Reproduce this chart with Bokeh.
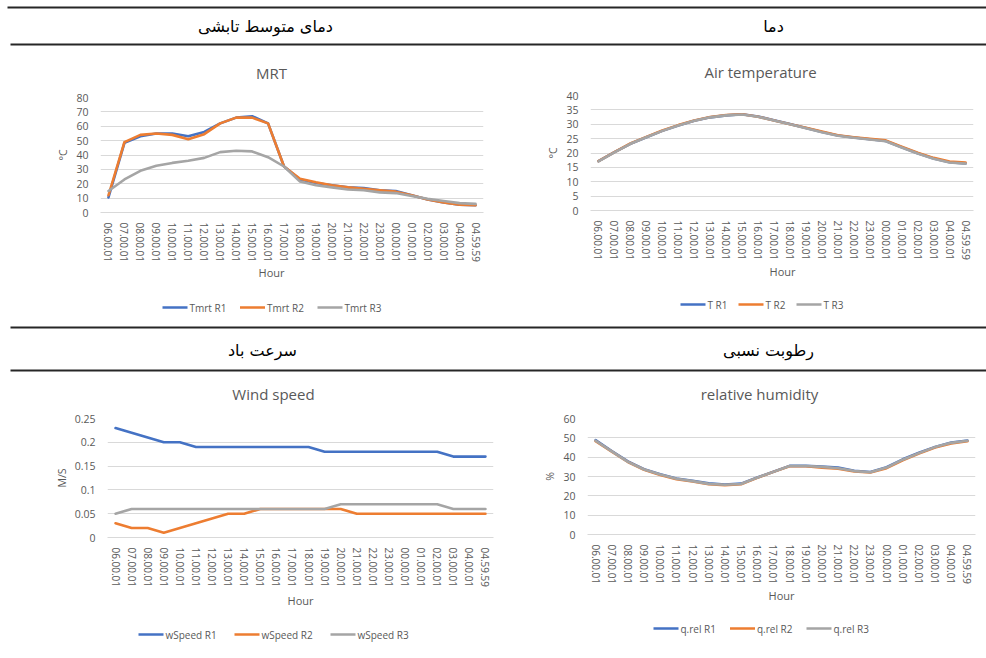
from bokeh.plotting import figure
from bokeh.models import (FactorRange, Range1d, FixedTicker, NumeralTickFormatter, Label)
from bokeh.layouts import column, row
from bokeh.embed import file_html
from bokeh.resources import INLINE

# ---- data -------------------------------------------------------------
hours = ["06.00.01", "07.00.01", "08.00.01", "09.00.01", "10.00.01", "11.00.01",
         "12.00.01", "13.00.01", "14.00.01", "15.00.01", "16.00.01", "17.00.01",
         "18.00.01", "19.00.01", "20.00.01", "21.00.01", "22.00.01", "23.00.01",
         "00.00.01", "01.00.01", "02.00.01", "03.00.01", "04.00.01", "04.59.59"]

tmrt_r1 = [10.5, 48.5, 53, 55, 55, 53, 56, 62, 66, 67, 62, 32,
           23, 20.5, 19, 17.5, 17, 15.5, 15, 12, 9, 7, 5.5, 5]
tmrt_r2 = [12, 49, 54, 55, 54, 51, 54.5, 62, 66, 66, 62, 32,
           23.5, 21, 19, 17.5, 16.5, 15.5, 14.5, 12, 9, 7, 5.5, 5]
tmrt_r3 = [15, 23, 29, 32.5, 34.5, 36, 38, 42, 43, 42.5, 38.5, 32,
           21.5, 19, 17.5, 16, 15.5, 14, 13.5, 11.5, 9.5, 8, 6.5, 6]

t_r1 = [17.2, 20.3, 23.2, 25.5, 27.7, 29.6, 31.2, 32.4, 33.1, 33.5, 32.7, 31.4,
        30.1, 28.7, 27.3, 26.1, 25.4, 24.8, 24.2, 22.0, 19.9, 18.1, 16.8, 16.4]
t_r2 = [17.2, 20.3, 23.3, 25.6, 27.8, 29.7, 31.3, 32.5, 33.2, 33.5, 32.6, 31.3,
        30.0, 28.8, 27.5, 26.2, 25.5, 24.9, 24.4, 22.2, 20.1, 18.3, 17.0, 16.7]
t_r3 = [17.1, 20.2, 23.2, 25.5, 27.7, 29.6, 31.2, 32.4, 33.1, 33.4, 32.6, 31.3,
        30.0, 28.6, 27.2, 26.0, 25.3, 24.7, 24.1, 21.9, 19.8, 18.0, 16.7, 16.3]

wspeed_r1 = [0.23, 0.22, 0.21, 0.20, 0.20, 0.19, 0.19, 0.19, 0.19, 0.19, 0.19, 0.19,
             0.19, 0.18, 0.18, 0.18, 0.18, 0.18, 0.18, 0.18, 0.18, 0.17, 0.17, 0.17]
wspeed_r2 = [0.03, 0.02, 0.02, 0.01, 0.02, 0.03, 0.04, 0.05, 0.05, 0.06, 0.06, 0.06,
             0.06, 0.06, 0.06, 0.05, 0.05, 0.05, 0.05, 0.05, 0.05, 0.05, 0.05, 0.05]
wspeed_r3 = [0.05, 0.06, 0.06, 0.06, 0.06, 0.06, 0.06, 0.06, 0.06, 0.06, 0.06, 0.06,
             0.06, 0.06, 0.07, 0.07, 0.07, 0.07, 0.07, 0.07, 0.07, 0.06, 0.06, 0.06]

qrel_r1 = [48.8, 43.2, 37.8, 33.8, 31.2, 29.0, 27.8, 26.5, 25.9, 26.3, 29.5, 32.5,
           35.5, 35.5, 35.2, 34.6, 33.0, 32.3, 34.8, 38.9, 42.3, 45.3, 47.6, 48.6]
qrel_r2 = [48.3, 42.9, 37.5, 33.5, 30.8, 28.6, 27.4, 26.0, 25.5, 26.0, 29.3, 32.4,
           35.3, 35.3, 34.6, 34.0, 32.6, 32.1, 34.3, 38.4, 41.9, 45.0, 47.1, 48.2]
qrel_r3 = [48.5, 43.0, 37.6, 33.6, 31.0, 28.8, 27.6, 26.2, 25.7, 26.1, 29.4, 32.4,
           35.4, 35.4, 35.0, 34.3, 32.8, 32.2, 34.6, 38.7, 42.1, 45.2, 47.4, 48.5]

# ---- styling ----------------------------------------------------------
FONT = "Open Sans"
FA_FONT = "DejaVu Sans"
TEXT = "#595959"
GRID = "#d9d9d9"
COLORS = ["#4472c4", "#ed7d31", "#a5a5a5"]
LINE_W = 2.6
PAD_TOP = 8        # room above the plot area for the top tick label
AXIS_BOTTOM = 53   # room under the plot area for the rotated tick labels
KEY_W = 25         # legend key length


def blank(width, height, x0=0, x1=None):
    """A text-only strip; its x range is in chart pixels across its frame, y downwards.

    Inside a column the strip's frame lines up with the plot frame above it,
    so x0/x1 give the chart pixel positions of that frame's edges.
    """
    f = figure(width=width, height=height, output_backend="svg", toolbar_location=None,
               x_range=Range1d(x0, width if x1 is None else x1),
               y_range=Range1d(height, 0),
               x_axis_type=None, y_axis_type=None, min_border=0,
               outline_line_color=None, background_fill_color="white",
               border_fill_color="white")
    f.xgrid.grid_line_color = None
    f.ygrid.grid_line_color = None
    return f


def chart(width, height, frame, y_max, y_step, y_label, title, title_pos, hour_pos,
          series, names, legend_pos, legend_step, y_format="0"):
    left, top, right, bottom = frame      # plot area edges inside the chart box
    h_top = top - PAD_TOP
    h_plot = PAD_TOP + (bottom - top) + AXIS_BOTTOM
    h_leg = height - h_top - h_plot

    # title strip
    t = blank(width, h_top, left, right)
    t.add_layout(Label(x=title_pos[0], y=title_pos[1], text=title,
                       text_align="center", text_baseline="middle",
                       text_font=FONT, text_font_size="15px", text_color=TEXT))

    # plot area with axes
    p = figure(width=width, height=h_plot, output_backend="svg", toolbar_location=None,
               x_range=FactorRange(factors=hours), y_range=Range1d(0, y_max),
               min_border_left=left, min_border_top=PAD_TOP,
               min_border_right=width - right, min_border_bottom=AXIS_BOTTOM,
               outline_line_color=None, background_fill_color="white",
               border_fill_color="white")
    p.xgrid.grid_line_color = None
    p.ygrid.grid_line_color = GRID
    p.ygrid.grid_line_width = 1

    ya = p.yaxis[0]
    n = int(round(y_max / y_step))
    ya.ticker = FixedTicker(ticks=[i * y_step for i in range(n + 1)])
    ya.formatter = NumeralTickFormatter(format=y_format)
    ya.axis_line_color = None
    ya.major_tick_line_color = None
    ya.minor_tick_line_color = None
    ya.major_tick_out = 0
    ya.major_tick_in = 0
    ya.minor_tick_out = 0
    ya.major_label_standoff = 12
    ya.major_label_text_font = FONT
    ya.major_label_text_font_size = "10.5px"
    ya.major_label_text_color = TEXT
    ya.axis_label = y_label
    ya.axis_label_standoff = 3
    ya.axis_label_text_font = FONT
    ya.axis_label_text_font_size = "10.5px"
    ya.axis_label_text_font_style = "normal"
    ya.axis_label_text_color = TEXT

    xa = p.xaxis[0]
    xa.axis_line_color = GRID
    xa.major_tick_line_color = None
    xa.minor_tick_line_color = None
    xa.major_tick_out = 0
    xa.major_tick_in = 0
    xa.minor_tick_out = 0
    xa.major_label_orientation = "vertical"
    xa.major_label_standoff = 10
    xa.major_label_text_font = FONT
    xa.major_label_text_font_size = "10px"
    xa.major_label_text_color = TEXT

    for vals, color in zip(series, COLORS):
        p.line(x=hours, y=vals, line_color=color, line_width=LINE_W,
               line_join="round", line_cap="round")

    # lower strip: horizontal axis title, then one key line and name per series
    g = blank(width, h_leg, left, right)
    g.add_layout(Label(x=hour_pos[0], y=hour_pos[1], text="Hour",
                       text_align="center", text_baseline="middle",
                       text_font=FONT, text_font_size="11px", text_color=TEXT))
    x0, yc = legend_pos
    starts = [x0 + i * legend_step for i in range(len(names))]
    g.segment(x0=starts, x1=[s + KEY_W for s in starts],
              y0=[yc] * len(starts), y1=[yc] * len(starts),
              line_color=COLORS, line_width=LINE_W)
    for s, nm in zip(starts, names):
        g.add_layout(Label(x=s + KEY_W + 2, y=yc, text=nm,
                           text_align="left", text_baseline="middle",
                           text_font=FONT, text_font_size="10px", text_color=TEXT))

    return column(t, p, g)


def header(height, rules, labels):
    h = blank(986, height)
    h.segment(x0=[r[0] for r in rules], x1=[986] * len(rules),
              y0=[r[1] for r in rules], y1=[r[1] for r in rules],
              line_color="#262626", line_width=2)
    for txt, x, y in labels:
        h.add_layout(Label(x=x, y=y, text=txt, text_align="center", text_baseline="middle",
                           text_font=FA_FONT, text_font_size="16px", text_color="black"))
    return h


head1 = header(46, [(7, 7), (10, 44)],
               [("دمای متوسط تابشی", 265, 26), ("دما", 773, 26)])
head2 = header(47, [(10, 2), (10, 45)],
               [("سرعت باد", 262, 25), ("رطوبت نسبی", 768, 25)])

# top row: chart boxes 279 px tall
mrt = chart(493, 279, (100, 51, 483, 166), 80, 10, "°C", "MRT", (271, 26), (271, 7),
            [tmrt_r1, tmrt_r2, tmrt_r3], ["Tmrt R1", "Tmrt R2", "Tmrt R3"],
            (162, 42), 77.5)
air = chart(493, 279, (97, 49, 480, 164), 40, 5, "°C", "Air temperature", (267, 25),
            (289, 8), [t_r1, t_r2, t_r3], ["T R1", "T R2", "T R3"], (187, 41), 58)

# bottom row: chart boxes 286 px tall
wind = chart(500, 286, (107, 46, 493, 165), 0.25, 0.05, "M/S", "Wind speed", (273, 21),
             (300, 10), [wspeed_r1, wspeed_r2, wspeed_r3],
             ["wSpeed R1", "wSpeed R2", "wSpeed R3"], (138, 44), 96, y_format="0.[00]")
rh = chart(486, 286, (87, 46, 475, 162), 60, 10, "%", "relative humidity", (259, 21),
           (281, 8), [qrel_r1, qrel_r2, qrel_r3], ["q.rel R1", "q.rel R2", "q.rel R3"],
           (153, 41), 76.5)

layout = column(head1, row(mrt, air), head2, row(wind, rh))

open("out.html", "w").write(file_html(layout, INLINE))
